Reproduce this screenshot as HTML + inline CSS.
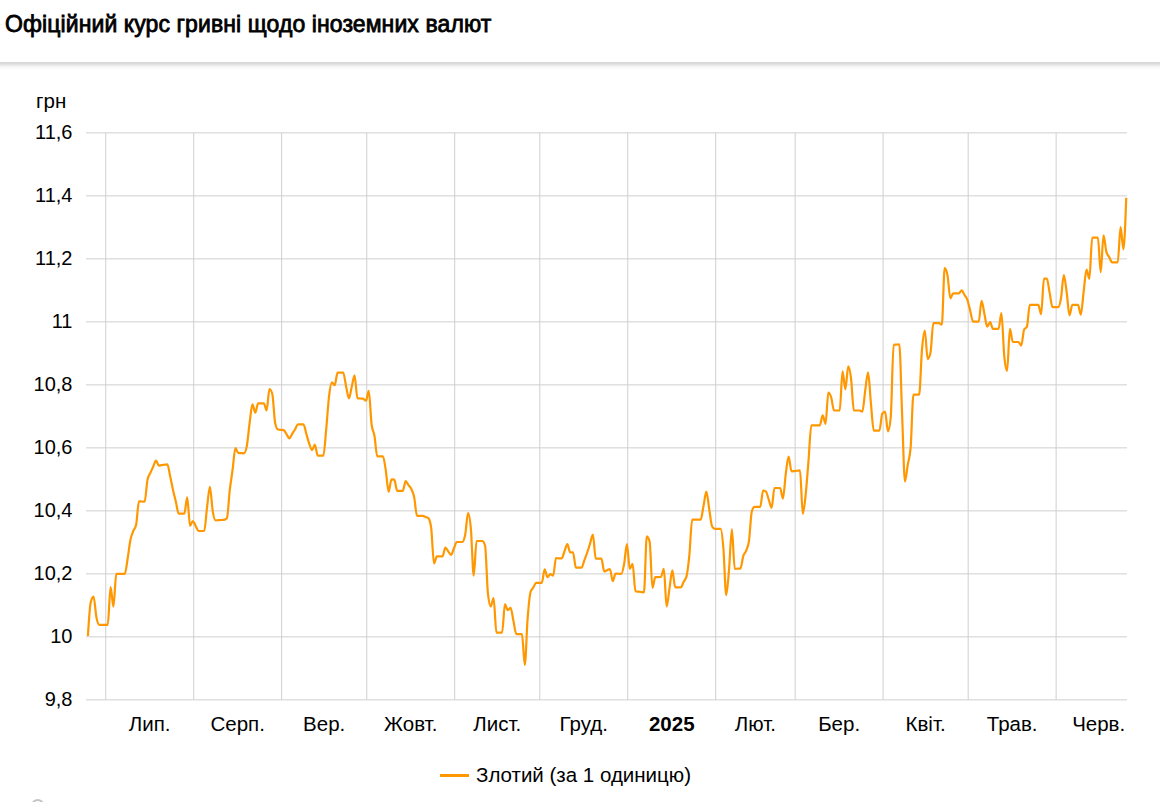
<!DOCTYPE html>
<html><head><meta charset="utf-8"><style>
html,body{margin:0;padding:0;background:#fff;}
body{width:1160px;height:802px;overflow:hidden;position:relative;font-family:"Liberation Sans",sans-serif;}
.title{position:absolute;left:5px;top:-1px;height:62px;line-height:50px;font-size:23px;font-weight:normal;color:#000;-webkit-text-stroke:0.8px #000;letter-spacing:0.1px;white-space:nowrap;}
.sh{position:absolute;left:0;width:1160px;height:1px;}
svg{position:absolute;left:0;top:0;}
</style></head><body>
<div class="title">Офіційний курс гривні щодо іноземних валют</div>
<div class="sh" style="top:62px;background:rgb(216,216,216)"></div><div class="sh" style="top:63px;background:rgb(219,219,219)"></div><div class="sh" style="top:64px;background:rgb(226,226,226)"></div><div class="sh" style="top:65px;background:rgb(236,236,236)"></div><div class="sh" style="top:66px;background:rgb(244,244,244)"></div><div class="sh" style="top:67px;background:rgb(249,249,249)"></div><div class="sh" style="top:68px;background:rgb(252,252,252)"></div><div class="sh" style="top:69px;background:rgb(254,254,254)"></div>
<svg width="1160" height="802" viewBox="0 0 1160 802">
<g stroke="#cfcfcf" stroke-width="1" fill="none"><line x1="86" y1="132.87" x2="1127" y2="132.87"/><line x1="86" y1="195.87" x2="1127" y2="195.87"/><line x1="86" y1="258.87" x2="1127" y2="258.87"/><line x1="86" y1="321.87" x2="1127" y2="321.87"/><line x1="86" y1="384.87" x2="1127" y2="384.87"/><line x1="86" y1="447.87" x2="1127" y2="447.87"/><line x1="86" y1="510.87" x2="1127" y2="510.87"/><line x1="86" y1="573.87" x2="1127" y2="573.87"/><line x1="86" y1="636.87" x2="1127" y2="636.87"/><line x1="86" y1="699.87" x2="1127" y2="699.87"/><line x1="105.75" y1="132.87" x2="105.75" y2="699.87"/><line x1="193.70" y1="132.87" x2="193.70" y2="699.87"/><line x1="281.64" y1="132.87" x2="281.64" y2="699.87"/><line x1="366.75" y1="132.87" x2="366.75" y2="699.87"/><line x1="454.70" y1="132.87" x2="454.70" y2="699.87"/><line x1="539.81" y1="132.87" x2="539.81" y2="699.87"/><line x1="627.76" y1="132.87" x2="627.76" y2="699.87"/><line x1="715.71" y1="132.87" x2="715.71" y2="699.87"/><line x1="795.14" y1="132.87" x2="795.14" y2="699.87"/><line x1="883.09" y1="132.87" x2="883.09" y2="699.87"/><line x1="968.20" y1="132.87" x2="968.20" y2="699.87"/><line x1="1056.14" y1="132.87" x2="1056.14" y2="699.87"/></g>
<g font-family="Liberation Sans, sans-serif" font-size="20.5" fill="#000">
<text x="36" y="108">грн</text>
<text x="72.5" y="138.87" text-anchor="end" font-size="20">11,6</text><text x="72.5" y="201.87" text-anchor="end" font-size="20">11,4</text><text x="72.5" y="264.87" text-anchor="end" font-size="20">11,2</text><text x="72.5" y="327.87" text-anchor="end" font-size="20">11</text><text x="72.5" y="390.87" text-anchor="end" font-size="20">10,8</text><text x="72.5" y="453.87" text-anchor="end" font-size="20">10,6</text><text x="72.5" y="516.87" text-anchor="end" font-size="20">10,4</text><text x="72.5" y="579.87" text-anchor="end" font-size="20">10,2</text><text x="72.5" y="642.87" text-anchor="end" font-size="20">10</text><text x="72.5" y="705.87" text-anchor="end" font-size="20">9,8</text>
<text x="149.72" y="730.8" text-anchor="middle">Лип.</text><text x="237.67" y="730.8" text-anchor="middle">Серп.</text><text x="324.20" y="730.8" text-anchor="middle">Вер.</text><text x="410.73" y="730.8" text-anchor="middle">Жовт.</text><text x="497.26" y="730.8" text-anchor="middle">Лист.</text><text x="583.78" y="730.8" text-anchor="middle">Груд.</text><text x="671.73" y="730.8" text-anchor="middle" font-weight="bold">2025</text><text x="755.42" y="730.8" text-anchor="middle">Лют.</text><text x="839.11" y="730.8" text-anchor="middle">Бер.</text><text x="925.64" y="730.8" text-anchor="middle">Квіт.</text><text x="1012.17" y="730.8" text-anchor="middle">Трав.</text><text x="1098.70" y="730.8" text-anchor="middle">Черв.</text>
<text x="476" y="781.9">Злотий (за 1 одиницю)</text>
</g>
<rect x="440" y="774" width="29" height="3" fill="#ff9800"/>
<path d="M87.90,636.00C88.85,621.02,89.79,606.03,90.74,602.30C91.68,598.57,92.63,596.70,93.57,596.70C94.52,596.70,95.47,612.62,96.41,617.30C97.36,621.98,98.30,624.80,99.25,624.80C100.19,624.80,101.14,624.80,102.09,624.80C103.03,624.80,103.98,624.80,104.92,624.80C105.87,624.80,106.81,624.80,107.76,624.80C108.70,624.80,109.65,587.10,110.60,587.10C111.54,587.10,112.49,606.70,113.43,606.70C114.38,606.70,115.32,573.90,116.27,573.90C117.22,573.90,118.16,573.90,119.11,573.90C120.05,573.90,121.00,573.90,121.94,573.90C122.89,573.90,123.84,573.90,124.78,573.90C125.73,573.90,126.67,564.38,127.62,558.70C128.56,553.02,129.51,544.42,130.46,539.80C131.40,535.18,132.35,533.50,133.29,531.00C134.24,528.50,135.18,528.93,136.13,524.80C137.07,520.67,138.02,501.30,138.97,501.30C139.91,501.30,140.86,501.43,141.80,501.50C142.75,501.57,143.69,501.70,144.64,501.70C145.59,501.70,146.53,484.50,147.48,479.90C148.42,475.30,149.37,475.18,150.31,473.00C151.26,470.82,152.21,468.87,153.15,466.80C154.10,464.73,155.04,460.60,155.99,460.60C156.93,460.60,157.88,465.60,158.83,465.60C159.77,465.60,160.72,465.31,161.66,465.17C162.61,465.02,163.55,464.88,164.50,464.73C165.44,464.59,166.39,464.30,167.34,464.30C168.28,464.30,169.23,471.93,170.17,476.20C171.12,480.47,172.06,485.64,173.01,489.90C173.96,494.16,174.90,497.80,175.85,501.75C176.79,505.70,177.74,513.60,178.68,513.60C179.63,513.60,180.58,513.60,181.52,513.60C182.47,513.60,183.41,513.60,184.36,513.60C185.30,513.60,186.25,497.40,187.19,497.40C188.14,497.40,189.09,525.80,190.03,525.80C190.98,525.80,191.92,521.00,192.87,521.00C193.81,521.00,194.76,524.33,195.71,526.00C196.65,527.67,197.60,531.00,198.54,531.00C199.49,531.00,200.43,531.00,201.38,531.00C202.33,531.00,203.27,531.00,204.22,531.00C205.16,531.00,206.11,514.67,207.05,507.30C208.00,499.93,208.95,486.80,209.89,486.80C210.84,486.80,211.78,505.50,212.73,511.10C213.67,516.70,214.62,520.40,215.56,520.40C216.51,520.40,217.46,520.27,218.40,520.20C219.35,520.13,220.29,520.07,221.24,520.00C222.18,519.93,223.13,519.93,224.08,519.80C225.02,519.67,225.97,519.30,226.91,518.30C227.86,517.30,228.80,498.40,229.75,490.30C230.70,482.20,231.64,476.72,232.59,469.70C233.53,462.68,234.48,448.20,235.42,448.20C236.37,448.20,237.32,452.77,238.26,452.90C239.21,453.03,240.15,453.03,241.10,453.10C242.04,453.17,242.99,453.30,243.94,453.30C244.88,453.30,245.83,451.00,246.77,446.40C247.72,441.80,248.66,430.02,249.61,423.00C250.55,415.98,251.50,404.30,252.45,404.30C253.39,404.30,254.34,412.70,255.28,412.70C256.23,412.70,257.17,403.40,258.12,403.40C259.07,403.40,260.01,403.40,260.96,403.40C261.90,403.40,262.85,403.40,263.79,403.40C264.74,403.40,265.69,410.30,266.63,410.30C267.58,410.30,268.52,389.00,269.47,389.00C270.41,389.00,271.36,390.67,272.31,394.00C273.25,397.33,274.20,418.67,275.14,423.00C276.09,427.33,277.03,429.30,277.98,429.50C278.92,429.70,279.87,429.70,280.82,429.80C281.76,429.90,282.71,429.90,283.65,430.10C284.60,430.30,285.54,432.83,286.49,434.20C287.44,435.57,288.38,438.30,289.33,438.30C290.27,438.30,291.22,435.37,292.16,433.90C293.11,432.43,294.06,431.10,295.00,429.50C295.95,427.90,296.89,424.30,297.84,424.30C298.78,424.30,299.73,424.30,300.68,424.30C301.62,424.30,302.57,424.30,303.51,424.30C304.46,424.30,305.40,430.73,306.35,433.95C307.29,437.17,308.24,440.91,309.19,443.60C310.13,446.29,311.08,450.10,312.02,450.10C312.97,450.10,313.91,444.50,314.86,444.50C315.81,444.50,316.75,455.70,317.70,455.70C318.64,455.70,319.59,455.70,320.53,455.70C321.48,455.70,322.43,455.70,323.37,455.70C324.32,455.70,325.26,439.08,326.21,429.20C327.15,419.32,328.10,404.20,329.05,396.40C329.99,388.60,330.94,382.40,331.88,382.40C332.83,382.40,333.77,385.20,334.72,385.20C335.66,385.20,336.61,372.70,337.56,372.70C338.50,372.70,339.45,372.70,340.39,372.70C341.34,372.70,342.28,372.70,343.23,372.70C344.18,372.70,345.12,381.93,346.07,386.20C347.01,390.47,347.96,398.30,348.90,398.30C349.85,398.30,350.80,390.63,351.74,386.80C352.69,382.97,353.63,375.30,354.58,375.30C355.52,375.30,356.47,398.17,357.42,398.30C358.36,398.43,359.31,398.43,360.25,398.50C361.20,398.57,362.14,398.57,363.09,398.70C364.03,398.83,364.98,400.70,365.93,400.70C366.87,400.70,367.82,390.80,368.76,390.80C369.71,390.80,370.65,417.03,371.60,424.50C372.55,431.97,373.49,430.40,374.44,435.70C375.38,441.00,376.33,456.30,377.27,456.30C378.22,456.30,379.17,456.30,380.11,456.30C381.06,456.30,382.00,456.30,382.95,456.30C383.89,456.30,384.84,464.38,385.79,470.30C386.73,476.22,387.68,491.80,388.62,491.80C389.57,491.80,390.51,479.30,391.46,479.30C392.40,479.30,393.35,479.40,394.30,479.60C395.24,479.80,396.19,490.80,397.13,490.80C398.08,490.80,399.02,490.80,399.97,490.80C400.92,490.80,401.86,490.80,402.81,490.80C403.75,490.80,404.70,481.10,405.64,481.10C406.59,481.10,407.54,483.73,408.48,485.05C409.43,486.37,410.37,486.99,411.32,489.00C412.26,491.01,413.21,492.63,414.15,497.10C415.10,501.57,416.05,515.80,416.99,515.80C417.94,515.80,418.88,515.80,419.83,515.80C420.77,515.80,421.72,515.80,422.67,515.80C423.61,515.80,424.56,516.60,425.50,517.00C426.45,517.40,427.39,517.40,428.34,518.20C429.29,519.00,430.23,521.43,431.18,527.90C432.12,534.37,433.07,563.50,434.01,563.50C434.96,563.50,435.91,556.40,436.85,556.40C437.80,556.40,438.74,556.40,439.69,556.40C440.63,556.40,441.58,556.40,442.52,556.40C443.47,556.40,444.42,547.60,445.36,547.60C446.31,547.60,447.25,550.07,448.20,551.30C449.14,552.53,450.09,555.00,451.04,555.00C451.98,555.00,452.93,550.67,453.87,548.50C454.82,546.33,455.76,542.00,456.71,542.00C457.66,542.00,458.60,542.00,459.55,542.00C460.49,542.00,461.44,542.00,462.38,542.00C463.33,542.00,464.28,539.33,465.22,534.50C466.17,529.67,467.11,513.00,468.06,513.00C469.00,513.00,469.95,518.47,470.89,528.90C471.84,539.33,472.79,575.60,473.73,575.60C474.68,575.60,475.62,541.00,476.57,541.00C477.51,541.00,478.46,541.00,479.41,541.00C480.35,541.00,481.30,541.00,482.24,541.00C483.19,541.00,484.13,542.57,485.08,545.70C486.03,548.83,486.97,584.73,487.92,593.40C488.86,602.07,489.81,606.40,490.75,606.40C491.70,606.40,492.65,598.20,493.59,598.20C494.54,598.20,495.48,632.60,496.43,632.60C497.37,632.60,498.32,632.60,499.26,632.60C500.21,632.60,501.16,632.60,502.10,632.60C503.05,632.60,503.99,604.20,504.94,604.20C505.88,604.20,506.83,610.10,507.78,610.10C508.72,610.10,509.67,607.90,510.61,607.90C511.56,607.90,512.50,616.63,513.45,621.00C514.40,625.37,515.34,634.10,516.29,634.10C517.23,634.10,518.18,634.10,519.12,634.10C520.07,634.10,521.02,634.10,521.96,634.10C522.91,634.10,523.85,664.80,524.80,664.80C525.74,664.80,526.69,630.50,527.63,618.40C528.58,606.30,529.53,595.33,530.47,592.20C531.42,589.07,532.36,589.07,533.31,587.50C534.25,585.93,535.20,582.80,536.15,582.80C537.09,582.80,538.04,582.80,538.98,582.80C539.93,582.80,540.87,582.80,541.82,582.80C542.77,582.80,543.71,569.30,544.66,569.30C545.60,569.30,546.55,577.20,547.49,577.20C548.44,577.20,549.39,574.20,550.33,574.20C551.28,574.20,552.22,575.60,553.17,575.60C554.11,575.60,555.06,558.20,556.00,558.20C556.95,558.20,557.90,558.27,558.84,558.30C559.79,558.33,560.73,558.40,561.68,558.40C562.62,558.40,563.57,553.63,564.52,551.25C565.46,548.87,566.41,544.10,567.35,544.10C568.30,544.10,569.24,552.50,570.19,552.50C571.14,552.50,572.08,552.30,573.03,552.30C573.97,552.30,574.92,567.70,575.86,567.70C576.81,567.70,577.76,567.70,578.70,567.70C579.65,567.70,580.59,567.70,581.54,567.70C582.48,567.70,583.43,562.63,584.38,560.10C585.32,557.57,586.27,555.26,587.21,552.50C588.16,549.74,589.10,546.53,590.05,543.55C590.99,540.57,591.94,534.60,592.89,534.60C593.83,534.60,594.78,558.70,595.72,558.70C596.67,558.70,597.61,558.70,598.56,558.70C599.51,558.70,600.45,558.70,601.40,558.70C602.34,558.70,603.29,571.40,604.23,571.40C605.18,571.40,606.13,570.60,607.07,570.20C608.02,569.80,608.96,569.00,609.91,569.00C610.85,569.00,611.80,581.20,612.75,581.20C613.69,581.20,614.64,573.60,615.58,573.60C616.53,573.60,617.47,573.70,618.42,573.75C619.36,573.80,620.31,573.90,621.26,573.90C622.20,573.90,623.15,569.27,624.09,564.30C625.04,559.33,625.98,544.10,626.93,544.10C627.88,544.10,628.82,568.80,629.77,568.80C630.71,568.80,631.66,563.80,632.60,563.80C633.55,563.80,634.50,591.07,635.44,591.30C636.39,591.53,637.33,591.53,638.28,591.65C639.22,591.77,640.17,591.88,641.12,592.00C642.06,592.12,643.01,592.35,643.95,592.35C644.90,592.35,645.84,536.30,646.79,536.30C647.73,536.30,648.68,538.07,649.63,541.60C650.57,545.13,651.52,587.80,652.46,587.80C653.41,587.80,654.35,577.30,655.30,577.20C656.25,577.10,657.19,577.10,658.14,577.05C659.08,577.00,660.03,577.00,660.97,576.90C661.92,576.80,662.87,568.80,663.81,568.80C664.76,568.80,665.70,606.40,666.65,606.40C667.59,606.40,668.54,594.40,669.49,588.40C670.43,582.40,671.38,570.40,672.32,570.40C673.27,570.40,674.21,587.30,675.16,587.30C676.10,587.30,677.05,587.30,678.00,587.30C678.94,587.30,679.89,587.30,680.83,587.30C681.78,587.30,682.72,583.67,683.67,581.85C684.62,580.03,685.56,580.03,686.51,576.40C687.45,572.77,688.40,564.85,689.34,555.40C690.29,545.95,691.24,519.70,692.18,519.70C693.13,519.70,694.07,519.70,695.02,519.70C695.96,519.70,696.91,519.70,697.86,519.70C698.80,519.70,699.75,519.70,700.69,519.70C701.64,519.70,702.58,510.57,703.53,505.90C704.47,501.23,705.42,491.70,706.37,491.70C707.31,491.70,708.26,503.20,709.20,508.95C710.15,514.70,711.09,524.40,712.04,526.20C712.99,528.00,713.93,528.90,714.88,528.90C715.82,528.90,716.77,528.90,717.71,528.90C718.66,528.90,719.61,528.90,720.55,528.90C721.50,528.90,722.44,537.07,723.39,548.10C724.33,559.13,725.28,595.10,726.23,595.10C727.17,595.10,728.12,580.05,729.06,569.10C730.01,558.15,730.95,529.40,731.90,529.40C732.84,529.40,733.79,568.80,734.74,568.80C735.68,568.80,736.63,568.73,737.57,568.70C738.52,568.67,739.46,568.67,740.41,568.60C741.36,568.53,742.30,559.15,743.25,556.20C744.19,553.25,745.14,553.37,746.08,550.90C747.03,548.43,747.98,547.73,748.92,541.40C749.87,535.07,750.81,514.97,751.76,511.70C752.70,508.43,753.65,506.80,754.60,506.80C755.54,506.80,756.49,506.80,757.43,506.80C758.38,506.80,759.32,506.80,760.27,506.80C761.21,506.80,762.16,490.50,763.11,490.50C764.05,490.50,765.00,490.87,765.94,491.60C766.89,492.33,767.83,497.03,768.78,499.75C769.73,502.47,770.67,507.90,771.62,507.90C772.56,507.90,773.51,488.00,774.45,488.00C775.40,488.00,776.35,488.00,777.29,488.00C778.24,488.00,779.18,488.00,780.13,488.00C781.07,488.00,782.02,498.60,782.97,498.60C783.91,498.60,784.86,480.60,785.80,473.60C786.75,466.60,787.69,456.60,788.64,456.60C789.58,456.60,790.53,471.40,791.48,471.40C792.42,471.40,793.37,471.18,794.31,471.07C795.26,470.96,796.20,470.84,797.15,470.73C798.10,470.62,799.04,470.40,799.99,470.40C800.93,470.40,801.88,513.80,802.82,513.80C803.77,513.80,804.72,503.53,805.66,494.70C806.61,485.87,807.55,472.37,808.50,460.80C809.44,449.23,810.39,425.30,811.34,425.30C812.28,425.30,813.23,425.30,814.17,425.30C815.12,425.30,816.06,425.30,817.01,425.30C817.95,425.30,818.90,425.30,819.85,425.30C820.79,425.30,821.74,415.30,822.68,415.30C823.63,415.30,824.57,423.80,825.52,423.80C826.47,423.80,827.41,392.50,828.36,392.50C829.30,392.50,830.25,394.40,831.19,397.40C832.14,400.40,833.09,410.50,834.03,410.50C834.98,410.50,835.92,410.50,836.87,410.50C837.81,410.50,838.76,410.50,839.71,410.50C840.65,410.50,841.60,371.30,842.54,371.30C843.49,371.30,844.43,389.30,845.38,389.30C846.32,389.30,847.27,366.40,848.22,366.40C849.16,366.40,850.11,371.35,851.05,378.70C852.00,386.05,852.94,410.50,853.89,410.50C854.84,410.50,855.78,410.50,856.73,410.50C857.67,410.50,858.62,410.50,859.56,410.50C860.51,410.50,861.46,411.60,862.40,411.60C863.35,411.60,864.29,396.93,865.24,390.40C866.18,383.87,867.13,372.40,868.08,372.40C869.02,372.40,869.97,393.40,870.91,403.10C871.86,412.80,872.80,430.60,873.75,430.60C874.69,430.60,875.64,430.60,876.59,430.60C877.53,430.60,878.48,430.60,879.42,430.60C880.37,430.60,881.31,415.10,882.26,413.70C883.21,412.30,884.15,411.60,885.10,411.60C886.04,411.60,886.99,431.30,887.93,431.30C888.88,431.30,889.83,426.50,890.77,416.90C891.72,407.30,892.66,344.93,893.61,344.80C894.55,344.67,895.50,344.67,896.45,344.60C897.39,344.53,898.34,344.40,899.28,344.40C900.23,344.40,901.17,391.85,902.12,414.70C903.06,437.55,904.01,481.50,904.96,481.50C905.90,481.50,906.85,470.20,907.79,464.55C908.74,458.90,909.68,458.90,910.63,447.60C911.58,436.30,912.52,394.60,913.47,394.60C914.41,394.60,915.36,394.63,916.30,394.65C917.25,394.67,918.20,394.70,919.14,394.70C920.09,394.70,921.03,360.30,921.98,349.60C922.92,338.90,923.87,330.50,924.82,330.50C925.76,330.50,926.71,359.10,927.65,359.10C928.60,359.10,929.54,357.00,930.49,352.80C931.43,348.60,932.38,323.10,933.33,323.10C934.27,323.10,935.22,323.10,936.16,323.10C937.11,323.10,938.05,323.10,939.00,323.10C939.95,323.10,940.89,324.60,941.84,324.60C942.78,324.60,943.73,268.00,944.67,268.00C945.62,268.00,946.57,270.47,947.51,275.40C948.46,280.33,949.40,298.30,950.35,298.30C951.29,298.30,952.24,293.40,953.19,293.40C954.13,293.40,955.08,293.40,956.02,293.40C956.97,293.40,957.91,293.40,958.86,293.40C959.80,293.40,960.75,290.30,961.70,290.30C962.64,290.30,963.59,293.47,964.53,295.05C965.48,296.63,966.42,297.19,967.37,299.80C968.32,302.41,969.26,307.07,970.21,310.70C971.15,314.33,972.10,321.60,973.04,321.60C973.99,321.60,974.94,321.60,975.88,321.60C976.83,321.60,977.77,321.60,978.72,321.60C979.66,321.60,980.61,300.80,981.56,300.80C982.50,300.80,983.45,309.43,984.39,313.75C985.34,318.07,986.28,326.70,987.23,326.70C988.17,326.70,989.12,322.00,990.07,322.00C991.01,322.00,991.96,328.80,992.90,328.80C993.85,328.80,994.79,328.80,995.74,328.80C996.69,328.80,997.63,328.80,998.58,328.80C999.52,328.80,1000.47,313.10,1001.41,313.10C1002.36,313.10,1003.31,346.18,1004.25,355.80C1005.20,365.42,1006.14,370.80,1007.09,370.80C1008.03,370.80,1008.98,328.90,1009.93,328.90C1010.87,328.90,1011.82,342.00,1012.76,342.00C1013.71,342.00,1014.65,342.00,1015.60,342.00C1016.54,342.00,1017.49,342.00,1018.44,342.00C1019.38,342.00,1020.33,345.60,1021.27,345.60C1022.22,345.60,1023.16,331.60,1024.11,329.60C1025.06,327.60,1026.00,328.60,1026.95,326.60C1027.89,324.60,1028.84,304.90,1029.78,304.90C1030.73,304.90,1031.68,304.90,1032.62,304.90C1033.57,304.90,1034.51,304.90,1035.46,304.90C1036.40,304.90,1037.35,304.90,1038.30,304.90C1039.24,304.90,1040.19,314.20,1041.13,314.20C1042.08,314.20,1043.02,278.70,1043.97,278.70C1044.91,278.70,1045.86,278.70,1046.81,278.70C1047.75,278.70,1048.70,288.15,1049.64,292.90C1050.59,297.65,1051.53,307.20,1052.48,307.20C1053.43,307.20,1054.37,307.20,1055.32,307.20C1056.26,307.20,1057.21,307.20,1058.15,307.20C1059.10,307.20,1060.05,303.57,1060.99,298.20C1061.94,292.83,1062.88,275.00,1063.83,275.00C1064.77,275.00,1065.72,285.47,1066.67,292.20C1067.61,298.93,1068.56,315.40,1069.50,315.40C1070.45,315.40,1071.39,304.90,1072.34,304.90C1073.28,304.90,1074.23,304.90,1075.18,304.90C1076.12,304.90,1077.07,304.90,1078.01,304.90C1078.96,304.90,1079.90,314.60,1080.85,314.60C1081.80,314.60,1082.74,298.88,1083.69,291.40C1084.63,283.92,1085.58,269.70,1086.52,269.70C1087.47,269.70,1088.42,278.80,1089.36,278.80C1090.31,278.80,1091.25,237.60,1092.20,237.60C1093.14,237.60,1094.09,237.60,1095.04,237.60C1095.98,237.60,1096.93,237.60,1097.87,237.60C1098.82,237.60,1099.76,272.10,1100.71,272.10C1101.65,272.10,1102.60,235.40,1103.55,235.40C1104.49,235.40,1105.44,248.43,1106.38,251.90C1107.33,255.37,1108.27,255.37,1109.22,257.10C1110.17,258.83,1111.11,262.30,1112.06,262.30C1113.00,262.30,1113.95,262.30,1114.89,262.30C1115.84,262.30,1116.79,262.30,1117.73,262.30C1118.68,262.30,1119.62,227.20,1120.57,227.20C1121.51,227.20,1122.46,249.20,1123.41,249.20C1124.35,249.20,1125.30,223.55,1126.24,197.90" fill="none" stroke="#ff9800" stroke-width="2.2" stroke-linejoin="round" stroke-linecap="butt"/>
<circle cx="37.7" cy="805.4" r="5.4" fill="none" stroke="#c4c4c4" stroke-width="2"/>
</svg>
</body></html>
